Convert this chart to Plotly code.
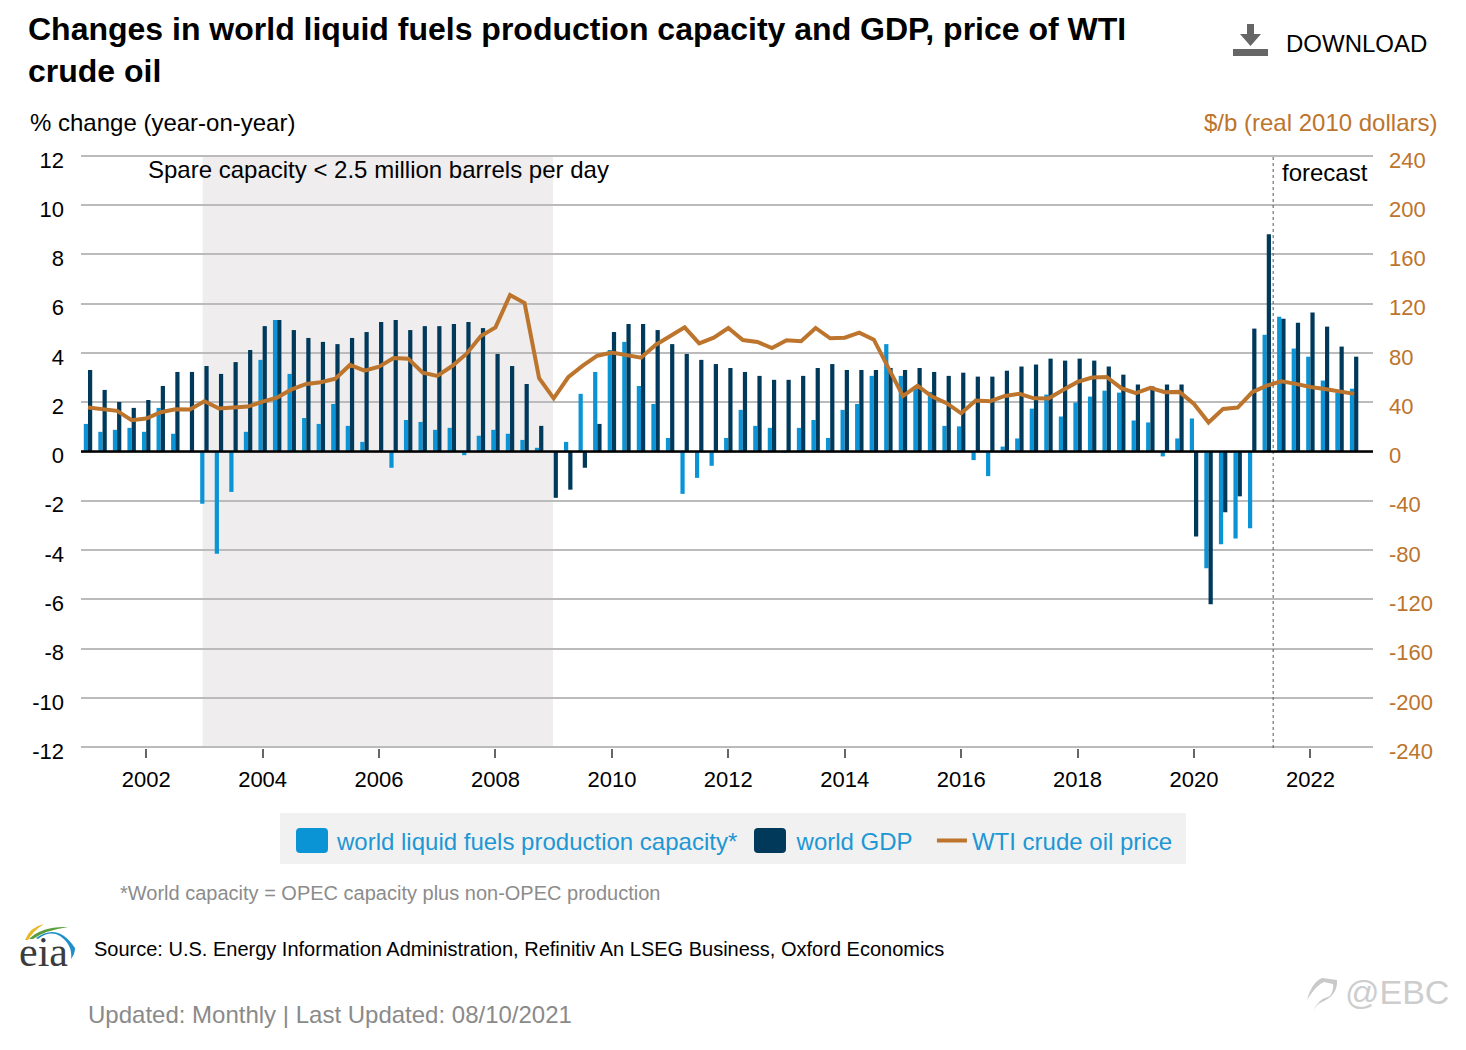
import plotly.graph_objects as go

W, H = 1466, 1050
FONT = "Liberation Sans"

years = list(range(2001, 2023))
quarters = [f"{y}-Q{q}" for y in years for q in (1, 2, 3, 4)]

capacity = [1.12, 0.80, 0.88, 0.96, 0.80, 1.77, 0.72, 0.00,
            -2.12, -4.15, -1.64, 0.80, 3.72, 5.34, 3.15, 1.36,
            1.12, 1.93, 1.04, 0.39, 0.00, -0.66, 1.28, 1.20,
            0.88, 0.96, -0.15, 0.64, 0.88, 0.72, 0.47, 0.15,
            0.00, 0.39, 2.34, 3.23, 4.12, 4.45, 2.66, 1.93,
            0.55, -1.72, -1.07, -0.58, 0.55, 1.69, 1.04, 0.96,
            -0.05, 0.96, 1.28, 0.55, 1.69, 1.93, 3.07, 4.36,
            3.07, 2.66, 2.42, 1.04, 1.02, -0.35, -1.00, 0.20,
            0.53, 1.74, 2.31, 1.42, 1.99, 2.23, 2.47, 2.39,
            1.26, 1.18, -0.20, 0.53, 1.34, -4.74, -3.77, -3.53,
            -3.12, 4.74, 5.47, 4.18, 3.85, 2.88, 2.39, 2.55]

gdp = [3.31, 2.50, 2.01, 1.77, 2.09, 2.66, 3.23, 3.23,
       3.47, 3.15, 3.63, 4.12, 5.09, 5.34, 4.93, 4.61,
       4.45, 4.36, 4.61, 4.85, 5.26, 5.34, 4.93, 5.09,
       5.09, 5.18, 5.26, 5.01, 3.96, 3.47, 2.74, 1.04,
       -1.88, -1.55, -0.66, 1.12, 4.85, 5.18, 5.18, 4.93,
       4.36, 3.96, 3.72, 3.55, 3.39, 3.23, 3.07, 2.91,
       2.91, 3.07, 3.39, 3.55, 3.31, 3.31, 3.31, 3.39,
       3.31, 3.39, 3.23, 3.07, 3.20, 3.04, 3.04, 3.28,
       3.45, 3.53, 3.77, 3.69, 3.77, 3.69, 3.45, 3.12,
       2.72, 2.64, 2.72, 2.72, -3.45, -6.20, -2.47, -1.82,
       4.99, 8.82, 5.39, 5.23, 5.64, 5.07, 4.26, 3.85]

wti = [35.7, 34.3, 33.0, 25.4, 26.8, 31.9, 34.3, 34.1,
       40.8, 34.9, 35.7, 36.5, 40.5, 43.8, 50.5, 54.9,
       56.2, 59.2, 70.3, 65.7, 68.9, 75.9, 75.4, 64.0,
       61.4, 69.2, 79.2, 93.8, 100.8, 127.0, 120.5, 59.5,
       43.2, 60.3, 69.7, 77.8, 80.3, 78.4, 76.2, 86.5,
       93.8, 100.8, 87.8, 92.4, 100.3, 90.5, 88.9, 84.0,
       90.3, 89.5, 100.3, 91.9, 92.4, 96.5, 90.8, 67.6,
       45.0, 53.5, 44.6, 39.2, 31.0, 41.4, 40.8, 45.1,
       46.8, 43.2, 43.0, 50.0, 56.5, 60.0, 60.5, 51.4,
       47.3, 51.6, 48.1, 48.4, 38.6, 23.5, 34.6, 35.7,
       48.1, 53.5, 57.0, 54.9, 52.4, 50.8, 48.6, 46.8]

left_ticks = [12, 10, 8, 6, 4, 2, 0, -2, -4, -6, -8, -10, -12]
right_ticks = [240, 200, 160, 120, 80, 40, 0, -40, -80, -120, -160, -200, -240]
x_tick_years = [2002, 2004, 2006, 2008, 2010, 2012, 2014, 2016, 2018, 2020, 2022]

BLUE, NAVY, BROWN = "#0a94d6", "#00395a", "#bd742c"
GRID = "#bbbbbb"


def px(x):
    return x / W


def py(y):
    return 1 - y / H


def text(x, y, s, size, color="#000000", anchor="left", family=FONT):
    return dict(xref="paper", yref="paper", x=px(x), y=py(y), text=s, showarrow=False,
                xanchor=anchor, yanchor="middle", borderpad=0,
                font=dict(family=family, size=size, color=color))


def box(x0, y0, x1, y1, color, radius=0):
    r = radius
    if r:
        path = (f"M{px(x0 + r)},{py(y0)} L{px(x1 - r)},{py(y0)} Q{px(x1)},{py(y0)} {px(x1)},{py(y0 + r)} "
                f"L{px(x1)},{py(y1 - r)} Q{px(x1)},{py(y1)} {px(x1 - r)},{py(y1)} "
                f"L{px(x0 + r)},{py(y1)} Q{px(x0)},{py(y1)} {px(x0)},{py(y1 - r)} "
                f"L{px(x0)},{py(y0 + r)} Q{px(x0)},{py(y0)} {px(x0 + r)},{py(y0)} Z")
        return dict(type="path", xref="paper", yref="paper", path=path, fillcolor=color,
                    line=dict(width=0), layer="below")
    return dict(type="rect", xref="paper", yref="paper", x0=px(x0), x1=px(x1), y0=py(y0), y1=py(y1),
                fillcolor=color, line=dict(width=0), layer="below")


def poly(points, color):
    """points: SVG-like path made of pixel pairs, mapped to paper space."""
    parts = []
    for cmd, *xy in points:
        pts = " ".join(f"{px(xy[i])},{py(xy[i + 1])}" for i in range(0, len(xy), 2))
        parts.append(f"{cmd}{pts}")
    return dict(type="path", xref="paper", yref="paper", path=" ".join(parts) + " Z",
                fillcolor=color, line=dict(width=0), layer="above")


GAP = "\u00a0\u00a0"
fig = go.Figure()
fig.add_bar(x=quarters, y=capacity, name="world liquid fuels production capacity*" + GAP,
            marker=dict(color=BLUE, line=dict(width=0)))
fig.add_bar(x=quarters, y=gdp, name="world GDP" + GAP, marker=dict(color=NAVY, line=dict(width=0)))
fig.add_scatter(x=quarters, y=wti, name="WTI crude oil price", yaxis="y2", mode="lines",
                line=dict(color=BROWN, width=4, shape="linear"))

shapes = [
    # spare capacity band and forecast divider
    dict(type="rect", xref="x", yref="paper", x0=7.88, x1=31.95,
         y0=py(747), y1=py(155.5), fillcolor="#efeded", line=dict(width=0), layer="below"),
    dict(type="line", xref="x", yref="paper", x0=81.44, x1=81.44, y0=py(748), y1=py(155.5),
         line=dict(color="#555555", width=1, dash="dot"), layer="above"),
    # zero line above bars
    dict(type="line", xref="paper", yref="y", x0=px(81), x1=px(1373), y0=0, y1=0,
         line=dict(color="#000000", width=2.5), layer="above"),
    # legend panel and large swatches behind the legend keys
    box(280, 813, 1186, 864, "#f1f1f1"),
    box(296, 828, 328, 853, BLUE, 4),
    box(754, 828, 786, 853, NAVY, 4),
    # download icon
    poly([("M", 1233, 49), ("L", 1268, 49), ("L", 1268, 56), ("L", 1233, 56)], "#666666"),
    poly([("M", 1247, 24), ("L", 1254, 24), ("L", 1254, 34), ("L", 1261, 34), ("L", 1250.5, 46),
          ("L", 1240, 34), ("L", 1247, 34)], "#666666"),
    # eia logo arcs
    poly([("M", 25, 940), ("Q", 30, 927, 44, 924), ("Q", 33, 931, 28, 940)], "#e8b923"),
    poly([("M", 29, 939), ("Q", 42, 926, 68, 927), ("Q", 46, 930, 33, 939)], "#5a9e3a"),
    poly([("M", 36, 938), ("Q", 58, 922, 75, 948), ("Q", 75, 954, 71, 959), ("Q", 73, 945, 60, 936),
          ("Q", 50, 930, 38, 939)], "#1f8fc8"),
    # watermark glyph
    poly([("M", 1307, 1000), ("Q", 1312, 982, 1322, 978), ("L", 1337, 980), ("Q", 1338, 995, 1322, 1002),
          ("Q", 1316, 1004, 1313, 1013), ("Q", 1316, 1000, 1330, 996), ("Q", 1334, 990, 1333, 984),
          ("L", 1324, 982), ("Q", 1316, 985, 1307, 1000)], "#c9c9c9"),
]

annotations = [
    text(147, 170, "Spare capacity &lt; 2.5 million barrels per day", 24),
    text(1281, 172, "forecast", 24),
    text(29, 123, "% change (year-on-year)", 24),
    text(1438, 123, "$/b (real 2010 dollars)", 24, BROWN, "right"),
    text(1285, 44, "DOWNLOAD", 24),
    text(119, 893, "*World capacity = OPEC capacity plus non-OPEC production", 20, "#8c8c8c"),
    text(93, 949, "Source: U.S. Energy Information Administration, Refinitiv An LSEG Business, Oxford Economics", 20),
    text(87, 1014, "Updated: Monthly | Last Updated: 08/10/2021", 24, "#8a8a8a"),
    text(18, 952, "eia", 42, "#3c3c3c", family="Liberation Serif"),
    text(1344, 992, "@EBC", 34, "#cdcdcd"),
]

fig.update_layout(
    width=W, height=H, autosize=False,
    margin=dict(l=0, r=0, t=0, b=0, autoexpand=False),
    paper_bgcolor="#ffffff", plot_bgcolor="rgba(0,0,0,0)",
    font=dict(family=FONT, size=22, color="#000000"),
    barmode="group", bargap=0.42, bargroupgap=0,
    title=dict(text="Changes in world liquid fuels production capacity and GDP, price of WTI<br>crude oil",
               x=px(28), xref="container", xanchor="left", y=py(40), yref="container", yanchor="top",
               pad=dict(l=0, t=0, b=0, r=0),
               font=dict(family=FONT, size=32, color="#000000", weight="bold")),
    xaxis=dict(type="category", categoryorder="array", categoryarray=quarters,
               domain=[px(81), px(1373)], range=[-0.48, 88.3],
               tickmode="array", tickvals=[f"{y}-Q1" for y in x_tick_years],
               ticktext=[str(y) for y in x_tick_years],
               ticks="outside", ticklen=9, tickwidth=1.5, tickcolor="#666666",
               showgrid=False, zeroline=False, showline=False, ticklabelstandoff=2,
               tickangle=0, tickfont=dict(size=22, color="#000000"), anchor="y"),
    yaxis=dict(domain=[py(748.3), py(154.7)], range=[-12.05, 12.05],
               tickmode="array", tickvals=left_ticks, ticktext=[str(v) for v in left_ticks],
               showgrid=True, gridcolor=GRID, gridwidth=2.2, zeroline=False, showline=False,
               ticks="", ticklabelstandoff=16, ticklabelshift=4, tickfont=dict(size=22, color="#000000")),
    yaxis2=dict(overlaying="y", side="right", anchor="x", range=[-241, 241],
                tickmode="array", tickvals=right_ticks, ticktext=[str(v) for v in right_ticks],
                showgrid=False, zeroline=False, showline=False, ticks="",
                ticklabelstandoff=15, ticklabelshift=4, tickfont=dict(size=22, color=BROWN)),
    legend=dict(orientation="h", x=px(297), y=py(841), xanchor="left", yanchor="middle",
                traceorder="normal", itemwidth=30, bgcolor="rgba(0,0,0,0)",
                font=dict(family=FONT, size=24, color="#1e97d4")),
    shapes=shapes, annotations=annotations,
)

fig.write_html("out.html", config=dict(displayModeBar=False),
               post_script="document.body.style.margin='0';document.body.style.overflow='hidden';")
